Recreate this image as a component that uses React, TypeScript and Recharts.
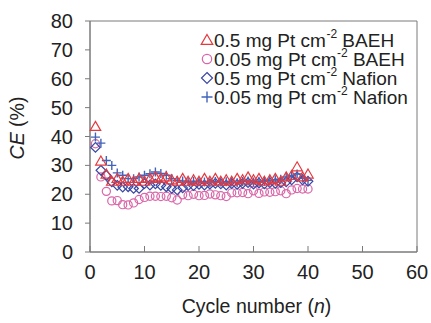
import React from "react";
import {
  ComposedChart,
  Scatter,
  XAxis,
  YAxis,
  ReferenceArea,
  Label,
} from "recharts";

const cycles = Array.from({ length: 40 }, (_, i) => i + 1);

const baeh05 = [43.5, 31.5, 27, 24.5, 25.5, 24.5, 25.5, 24.5, 25.5, 24.5, 25.5, 26, 25.5, 26, 25, 24.5, 25.5, 24.5, 25, 24.5, 25.5, 24.5, 25.5, 24.5, 25, 24.5, 25.5, 25, 26, 25, 25.5, 24.5, 25, 25.5, 24.5, 26, 26.5, 29.5, 26, 27];
const baeh005 = [37.5, 26, 21, 17.7, 17.8, 16.4, 16.3, 17, 18.2, 18.9, 19.3, 19.3, 19.2, 19.3, 18.8, 18, 19.8, 19.5, 20, 19.5, 19.6, 20.1, 19.8, 19.5, 19.2, 20.5, 20.5, 20.6, 20.2, 21.2, 20.3, 20.8, 20.7, 20.9, 21.2, 20.2, 21.5, 22, 21.8, 21.8];
const nafion05 = [36.2, 28.3, 26.5, 24.3, 23.1, 22.5, 22.6, 22, 22, 23.7, 23.2, 23.6, 23.1, 22.6, 22, 21.5, 22.2, 23, 23, 23.4, 23.2, 23.5, 23.8, 23.6, 23.2, 23.7, 23.4, 23.8, 24, 23.5, 23.9, 23.6, 24, 23.8, 24, 24.3, 25, 26, 25, 24.5];
const nafion005 = [39.8, 37.7, 31.7, 30, 27.4, 26.6, 25.4, 25.4, 26, 26.6, 27.1, 27.7, 27.2, 26.6, 25.4, 24.8, 24.6, 24.3, 24.5, 24.3, 24.2, 24, 24.4, 24.2, 24.3, 24.2, 24, 24.4, 24.6, 24.2, 24.5, 24.5, 24.8, 25, 25.2, 26, 26.5, 27, 25.5, 24.8];

const xTicks = [0, 10, 20, 30, 40, 50, 60];
const yTicks = [0, 10, 20, 30, 40, 50, 60, 70, 80];

const seriesNames = [
  { loading: "0.5", ionomer: "BAEH" },
  { loading: "0.05", ionomer: "BAEH" },
  { loading: "0.5", ionomer: "Nafion" },
  { loading: "0.05", ionomer: "Nafion" },
];

const RED = "#e5393f";
const PINK = "#d966a8";
const NAVY = "#3a47a2";
const BLUE = "#4263b8";
const colors = [RED, PINK, NAVY, BLUE];

const toPoints = (vals: number[]) => vals.map((v, i) => ({ x: cycles[i], y: v }));

const FONT = "'Liberation Sans', Arial, sans-serif";
const AXIS = "#7a7a7a";

type MarkProps = { cx?: number; cy?: number; color: string; s?: number };

const Tri = ({ cx = 0, cy = 0, color, s = 5 }: MarkProps) => (
  <polygon
    points={`${cx},${cy - s} ${cx + s * 1.05},${cy + s * 0.8} ${cx - s * 1.05},${cy + s * 0.8}`}
    fill="none"
    stroke={color}
    strokeWidth={1.2}
  />
);
const Circ = ({ cx = 0, cy = 0, color, s = 5 }: MarkProps) => (
  <circle cx={cx} cy={cy} r={s * 0.85} fill="none" stroke={color} strokeWidth={1.2} />
);
const Dia = ({ cx = 0, cy = 0, color, s = 5 }: MarkProps) => (
  <polygon
    points={`${cx},${cy - s} ${cx + s},${cy} ${cx},${cy + s} ${cx - s},${cy}`}
    fill="none"
    stroke={color}
    strokeWidth={1.2}
  />
);
const Plus = ({ cx = 0, cy = 0, color, s = 5 }: MarkProps) => (
  <path
    d={`M${cx - s},${cy}H${cx + s}M${cx},${cy - s}V${cy + s}`}
    stroke={color}
    strokeWidth={1.4}
    fill="none"
  />
);
const marks = [Tri, Circ, Dia, Plus];

const XTick = (props: any) => {
  const { x, y, payload } = props;
  const axisY = y - 13;
  return (
    <g>
      <line x1={x} x2={x} y1={axisY} y2={axisY - 6} stroke={AXIS} strokeWidth={1} />
      <text x={x} y={y} dy="0.71em" textAnchor="middle" fontSize={20} fontFamily={FONT} fill="#222">
        {payload.value}
      </text>
    </g>
  );
};

const LegendBox = () => (
  <svg width={230} height={90} style={{ overflow: "visible", display: "block" }}>
    {seriesNames.map((s, i) => {
      const M = marks[i];
      const cy = 12 + i * 19;
      return (
        <g key={i}>
          <M cx={8} cy={cy} color={colors[i]} s={5.5} />
          <text x={15} y={cy} dy="0.36em" fontSize={19} fontFamily={FONT} fill="#222">
            {`${s.loading} mg Pt cm`}
            <tspan fontSize={12} dx={0.5} dy="-0.75em">-2</tspan>
            <tspan dy="0.48em">{` ${s.ionomer}`}</tspan>
          </text>
        </g>
      );
    })}
  </svg>
);

export default function App() {
  const data = [baeh05, baeh005, nafion05, nafion005].map(toPoints);
  return (
    <div style={{ position: "absolute", left: 0, top: 0, width: 431, height: 323, background: "#fff" }}>
      <ComposedChart width={431} height={323} margin={{ top: 21, right: 14, bottom: 0, left: 0 }}>
        <XAxis
          dataKey="x"
          type="number"
          domain={[0, 60]}
          ticks={xTicks}
          interval={0}
          height={71}
          axisLine={{ stroke: AXIS }}
          tickLine={false}
          tickSize={0}
          tickMargin={13}
          tick={<XTick />}
        >
          <Label
            content={(p: any) => {
              const vb = p.viewBox;
              return (
                <text x={vb.x + vb.width / 2 + 3} y={313} textAnchor="middle" fontSize={19.5} fontFamily={FONT} fill="#222">
                  Cycle number (<tspan fontStyle="italic">n</tspan>)
                </text>
              );
            }}
          />
        </XAxis>
        <YAxis
          dataKey="y"
          type="number"
          domain={[0, 80]}
          ticks={yTicks}
          interval={0}
          width={90}
          axisLine={{ stroke: AXIS }}
          tickLine={{ stroke: AXIS }}
          tickSize={5}
          tickMargin={12}
          tick={{ fontSize: 20, fontFamily: FONT, fill: "#222" }}
        >
          <Label
            content={() => (
              <text
                x={0}
                y={0}
                transform="translate(24,128) rotate(-90)"
                textAnchor="middle"
                fontSize={19.5}
                fontFamily={FONT}
                fill="#222"
              >
                <tspan fontStyle="italic">CE</tspan> (%)
              </text>
            )}
          />
        </YAxis>
        <ReferenceArea x1={0} x2={60} y1={0} y2={80} fill="none" stroke={AXIS} strokeWidth={1} ifOverflow="visible" />
        <Scatter data={data[1]} isAnimationActive={false} shape={(p: any) => <Circ cx={p.cx} cy={p.cy} color={PINK} s={4.8} />} />
        <Scatter data={data[2]} isAnimationActive={false} shape={(p: any) => <Dia cx={p.cx} cy={p.cy} color={NAVY} s={4.8} />} />
        <Scatter data={data[3]} isAnimationActive={false} shape={(p: any) => <Plus cx={p.cx} cy={p.cy} color={BLUE} s={4.5} />} />
        <Scatter data={data[0]} isAnimationActive={false} shape={(p: any) => <Tri cx={p.cx} cy={p.cy} color={RED} s={5} />} />
      </ComposedChart>
      <div style={{ position: "absolute", left: 199, top: 28 }}>
        <LegendBox />
      </div>
    </div>
  );
}
